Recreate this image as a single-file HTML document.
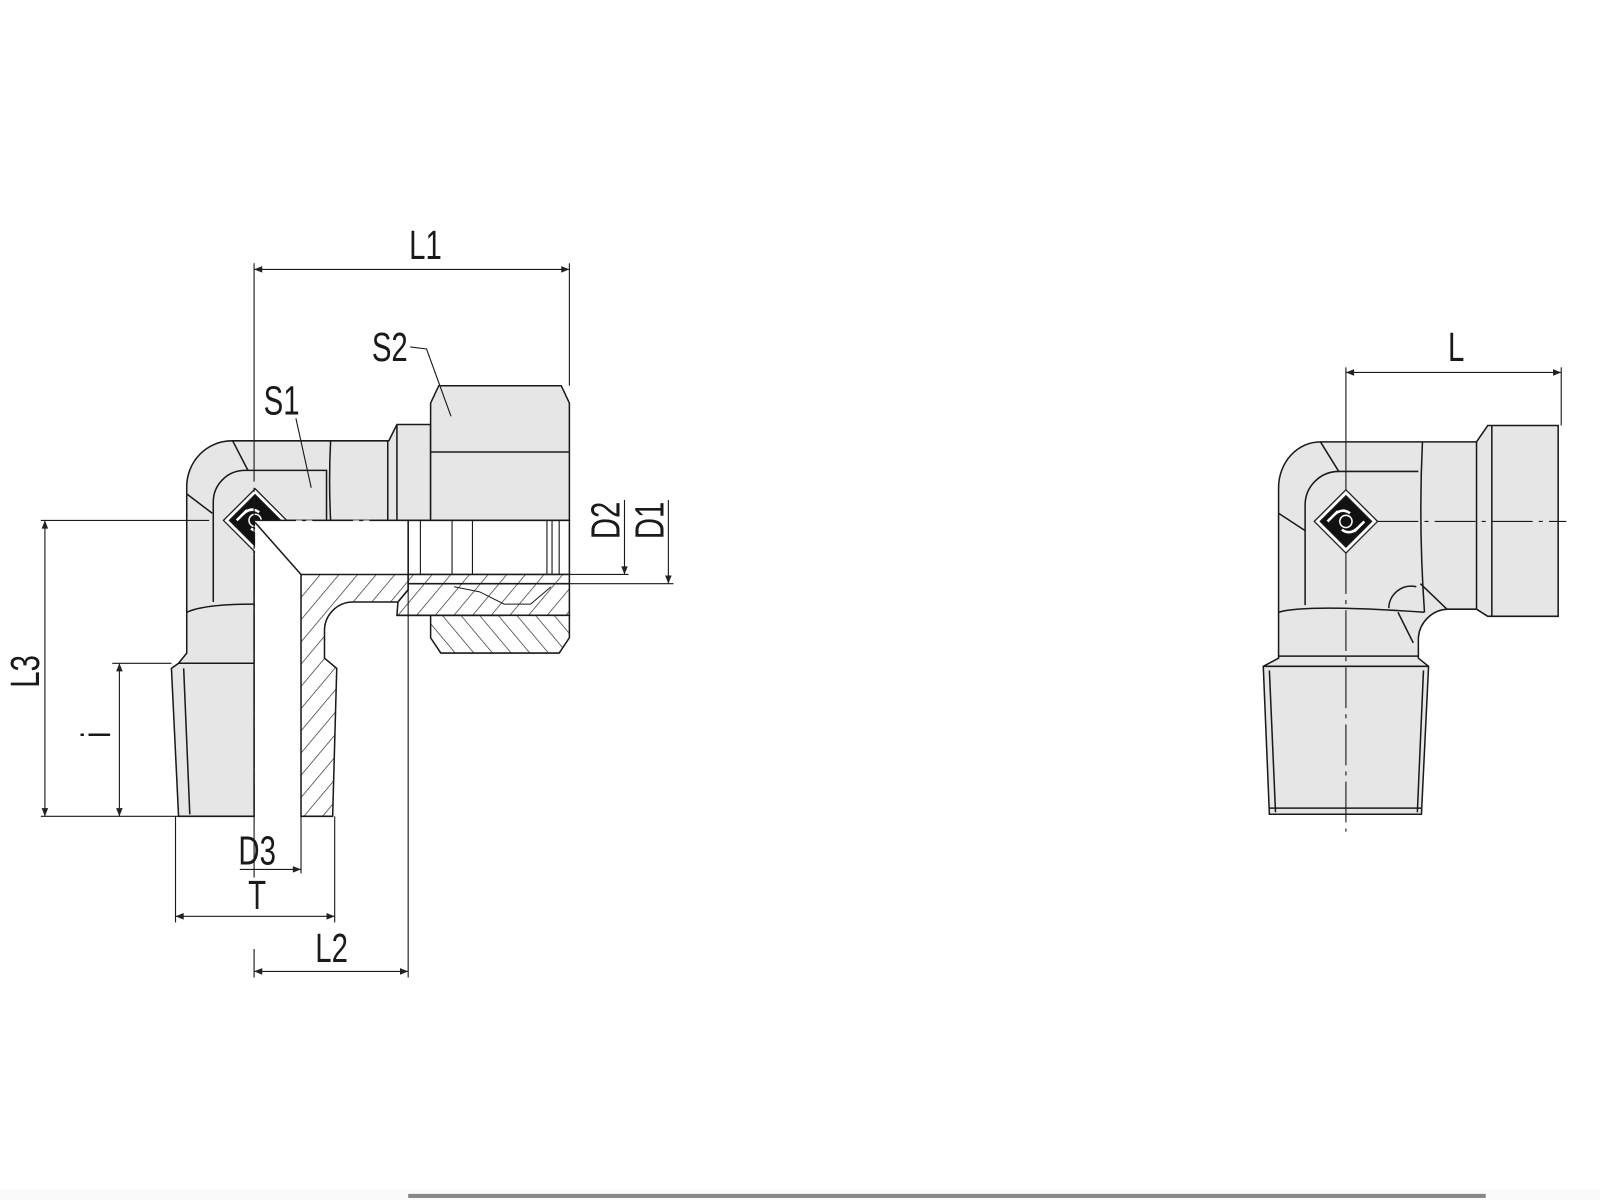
<!DOCTYPE html>
<html><head><meta charset="utf-8"><style>
html,body{margin:0;padding:0;background:#fff;}
svg{display:block;}
text{font-family:"Liberation Sans Narrow","Liberation Sans",sans-serif;font-size:40px;fill:#1a1a1a;}
</style></head><body>
<svg width="1600" height="1200" viewBox="0 0 1568 1176" xmlns="http://www.w3.org/2000/svg">
<defs>
<pattern id="h" patternUnits="userSpaceOnUse" width="14" height="14" patternTransform="rotate(40)">
<rect width="14" height="14" fill="#fff"/><line x1="0" y1="0" x2="0" y2="14" stroke="#333" stroke-width="1.4"/>
</pattern>
<pattern id="h2" patternUnits="userSpaceOnUse" width="14" height="14" patternTransform="rotate(-40)">
<rect width="14" height="14" fill="#fff"/><line x1="0" y1="0" x2="0" y2="14" stroke="#333" stroke-width="1.4"/>
</pattern>
<marker id="a" viewBox="0 0 10 10" refX="10" refY="5" markerWidth="12" markerHeight="8" orient="auto-start-reverse" markerUnits="userSpaceOnUse">
<path d="M0,1 L10,5 L0,9 Z" fill="#222"/></marker>
<g id="logo">
<path d="M0,-31 L31,0 L0,31 L-31,0 Z" fill="#fff" stroke="#222" stroke-width="1.3"/>
<path d="M0,-25 L25,0 L0,25 L-25,0 Z" fill="#111"/>
<path d="M-12,-6 Q-4,-14 4,-8 M12,6 Q4,14 -4,8 M-18,0 L-8,-10 M18,0 L8,10" stroke="#fff" stroke-width="2.5" fill="none"/>
<circle r="6" fill="#111" stroke="#fff" stroke-width="1.5"/>
</g>
</defs>
<rect x="0" y="0" width="1568" height="1176" fill="#fff"/>
<rect x="0" y="1166" width="1568" height="10" fill="#fafafa"/>
<rect x="400" y="1170" width="1056" height="4" fill="#888"/>

<g stroke="#1a1a1a" stroke-width="1.5" fill="none">
<!-- LEFT FITTING -->
<path d="M183,640 L183,477 A44,45 0 0 1 227,432 L381,432 L389,416 L422,416 L422,510 L249,510 L249,800 L175,800 L168,655 L175,650 L183,640 Z" fill="#e6e6e6"/>
<path d="M422,395 L430,378 L550,378 L558,395 L558,510 L422,510 Z" fill="#e6e6e6"/>
<line x1="422" y1="443" x2="558" y2="443"/>
<path d="M209,590 L209,492 A31,31 0 0 1 240,461 L320,461 L320,510"/>
<line x1="228" y1="432" x2="243" y2="461"/>
<line x1="183" y1="484" x2="208" y2="503"/>
<path d="M324,432 Q322,470 324,510"/>
<line x1="380" y1="432" x2="380" y2="510"/>
<line x1="389" y1="416" x2="389" y2="510"/>
<path d="M183,600 Q200,592 249,592"/>
<line x1="175" y1="650" x2="249" y2="650"/>
<line x1="180" y1="655" x2="186" y2="798"/>
<use href="#logo" x="250" y="510"/>
<path d="M250,510 L400,510 L400,563 L295,563 L295,800 L250,800 Z" fill="#fff" stroke="none"/>
<line x1="250" y1="512" x2="295" y2="563"/>
<line x1="250" y1="510" x2="400" y2="510" stroke-dasharray="40,6,4,6"/>
<rect x="400" y="510" width="158" height="53" fill="#fff"/>
<g stroke-width="1.1">
<line x1="412" y1="510" x2="412" y2="600"/><line x1="443" y1="510" x2="443" y2="563"/>
<line x1="463" y1="510" x2="463" y2="590"/><line x1="536" y1="510" x2="536" y2="563"/>
<line x1="541" y1="510" x2="541" y2="563"/><line x1="548" y1="510" x2="548" y2="563"/>
</g>
<path d="M295,563 L400,563 L400,578 L390,590 L346,590 A28,28 0 0 0 318,618 L318,645 L330,655 L326,800 L295,800 Z" fill="url(#h)"/>
<path d="M400,563 L558,563 L558,603 L389,603 L390,590 L400,578 Z" fill="url(#h)"/>
<path d="M422,603 L558,603 L558,625 L548,640 L432,640 L422,625 Z" fill="url(#h2)"/>
<line x1="400" y1="572" x2="558" y2="572"/>
<line x1="389" y1="603" x2="494" y2="603"/>
<path d="M445,575 L470,580 L494,592 L520,592 L540,575" stroke-width="1"/>

<g stroke-width="1.1">
<line x1="249" y1="258" x2="249" y2="432"/>
<line x1="249" y1="432" x2="249" y2="800" stroke-dasharray="40,6,4,6"/>
<line x1="249" y1="800" x2="249" y2="860"/>
<line x1="249" y1="930" x2="249" y2="958"/>
<line x1="558" y1="258" x2="558" y2="378"/>
<line x1="40" y1="510" x2="205" y2="510"/>
<line x1="40" y1="800" x2="200" y2="800"/>
<line x1="110" y1="650" x2="168" y2="650"/>
<line x1="558" y1="563" x2="616" y2="563"/>
<line x1="540" y1="572" x2="660" y2="572"/>
<line x1="400" y1="510" x2="400" y2="958"/>
<line x1="295" y1="800" x2="295" y2="856"/>
<line x1="172" y1="800" x2="172" y2="904"/>
<line x1="328" y1="800" x2="328" y2="904"/>
<line x1="612" y1="490" x2="612" y2="563" marker-end="url(#a)"/>
<line x1="655" y1="490" x2="655" y2="572" marker-end="url(#a)"/>
<line x1="249" y1="264" x2="558" y2="264" marker-start="url(#a)" marker-end="url(#a)"/>
<line x1="44" y1="510" x2="44" y2="800" marker-start="url(#a)" marker-end="url(#a)"/>
<line x1="117" y1="650" x2="117" y2="800" marker-start="url(#a)" marker-end="url(#a)"/>
<line x1="235" y1="852" x2="295" y2="852" marker-end="url(#a)"/>
<line x1="172" y1="898" x2="328" y2="898" marker-start="url(#a)" marker-end="url(#a)"/>
<line x1="249" y1="952" x2="400" y2="952" marker-start="url(#a)" marker-end="url(#a)"/>
<polyline points="402,340 418,342 442,408"/>
<line x1="290" y1="410" x2="305" y2="478"/>
</g>

<!-- RIGHT FITTING -->
<path d="M1253,645 L1253,478 A41,45 0 0 1 1294,433 L1447,433 L1458,417 L1527,417 L1527,604 L1458,604 L1447,597 L1420,597 A30,30 0 0 0 1390,627 L1390,645 L1400,653 L1393,798 L1244,798 L1238,653 L1253,645 Z" fill="#e6e6e6"/>
<path d="M1279,593 L1279,495 A33,33 0 0 1 1312,462 L1390,462"/>
<line x1="1294" y1="433" x2="1312" y2="462"/>
<line x1="1253" y1="503" x2="1279" y2="520"/>
<path d="M1394,433 Q1390,515 1396,600"/>
<line x1="1447" y1="433" x2="1447" y2="597"/>
<line x1="1462" y1="417" x2="1462" y2="604"/>
<path d="M1253,600 Q1280,592 1396,600"/>
<line x1="1253" y1="643" x2="1390" y2="643"/>
<line x1="1238" y1="653" x2="1400" y2="653"/>
<line x1="1244" y1="657" x2="1250" y2="796"/>
<line x1="1395" y1="657" x2="1389" y2="796"/>
<line x1="1244" y1="792" x2="1393" y2="792"/>
<path d="M1361,596 A22,22 0 0 1 1388,575"/>
<line x1="1392" y1="572" x2="1418" y2="597"/>
<line x1="1370" y1="600" x2="1385" y2="630"/>
<use href="#logo" x="1319" y="511"/>
<g stroke-width="1.1">
<line x1="1319" y1="360" x2="1319" y2="480"/>
<line x1="1319" y1="542" x2="1319" y2="815" stroke-dasharray="40,6,4,6"/>
<line x1="1350" y1="511" x2="1535" y2="511" stroke-dasharray="40,6,4,6"/>
<line x1="1530" y1="360" x2="1530" y2="417"/>
<line x1="1319" y1="365" x2="1530" y2="365" marker-start="url(#a)" marker-end="url(#a)"/>
</g>
</g>

<g text-anchor="middle">
<text transform="translate(417,254) scale(0.72,1)">L1</text>
<text transform="translate(382,354) scale(0.72,1)">S2</text>
<text transform="translate(276,406) scale(0.72,1)">S1</text>
<text transform="translate(252,847) scale(0.72,1)">D3</text>
<text transform="translate(252,891) scale(0.72,1)">T</text>
<text transform="translate(325,943) scale(0.72,1)">L2</text>
<text transform="translate(1427,354) scale(0.72,1)">L</text>
<text transform="translate(38,658) rotate(-90) scale(0.72,1)">L3</text>
<text transform="translate(108,720) rotate(-90) scale(0.72,1)">i</text>
<text transform="translate(607,510) rotate(-90) scale(0.72,1)">D2</text>
<text transform="translate(650,510) rotate(-90) scale(0.72,1)">D1</text>
</g>
</svg>
</body></html>
